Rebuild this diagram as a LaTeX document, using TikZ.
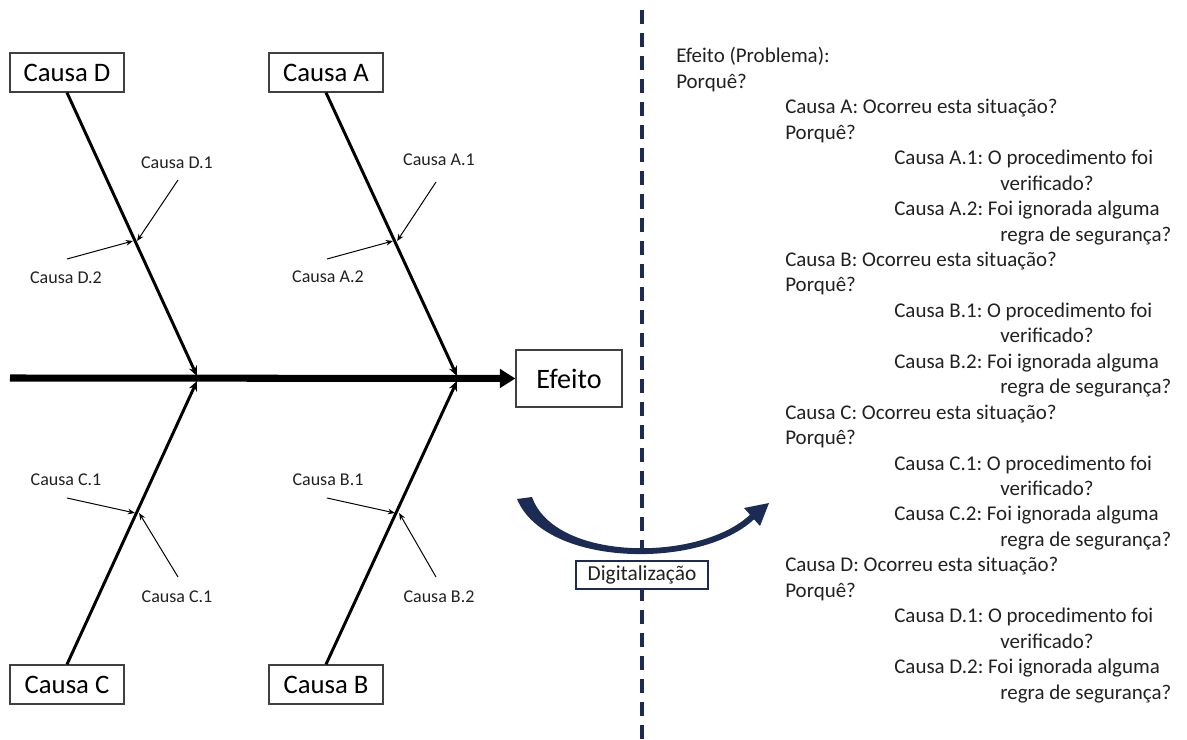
\documentclass[tikz,border=0pt]{standalone}
\usepackage{fontspec}
\setmainfont{Carlito}
\usetikzlibrary{arrows.meta}

\definecolor{navy}{rgb}{0.11,0.17,0.33}
\definecolor{darkgray}{rgb}{0.25,0.25,0.25}
\definecolor{ink}{rgb}{0.13,0.13,0.13}

\tikzset{
	causebox/.style={draw=darkgray,line width=0.9pt,minimum width=2.85cm,minimum height=0.975cm,font=\fontsize{19}{22}\selectfont},
	sublabel/.style={inner sep=0pt,font=\fontsize{12.8}{15}\selectfont,text=ink},
	line/.style={anchor=base west,inner sep=0pt,font=\fontsize{14.9}{18}\selectfont,text=ink},
	bone/.style={line width=2.1pt,-{Stealth[length=7pt,width=6pt]}},
	twig/.style={line width=0.7pt,-{Stealth[length=5pt,width=4pt]}}
}

\begin{document}
\frenchspacing
\begin{tikzpicture}[x=0.025cm,y=-0.025cm]

	\useasboundingbox (0,0) rectangle (1187,740);

	% boxes
	\node[causebox] at (67,72.5) (1) {Causa D};
	\node[causebox] at (326,72.5) (2) {Causa A};
	\node[causebox] at (67,684.5) (3) {Causa C};
	\node[causebox] at (326,684.5) (4) {Causa B};
	\node[causebox,minimum width=2.65cm,minimum height=1.425cm,font=\fontsize{20}{24}\selectfont] at (569,378.5) (5) {Efeito};

	\coordinate (s) at (10,378);
	\coordinate (j1) at (197,376);
	\coordinate (j2) at (457,376);
	\coordinate (j3) at (197,381);
	\coordinate (j4) at (457,381);

	% spine and bones
	\draw[line width=5pt,-{Triangle[length=11pt,width=13pt]}] (s) -- (5.west);

	\draw[bone] (1.south) -- (j1);
	\draw[bone] (2.south) -- (j2);
	\draw[bone] (3.north) -- (j3);
	\draw[bone] (4.north) -- (j4);

	% sub causes
	\node[sublabel] at (177,163) (7) {Causa D.1};
	\node[sublabel] at (66,278) (8) {Causa D.2};
	\node[sublabel] at (439,160) (9) {Causa A.1};
	\node[sublabel] at (328,277) (10) {Causa A.2};
	\node[sublabel] at (66,480) (11) {Causa C.1};
	\node[sublabel] at (177,597) (12) {Causa C.1};
	\node[sublabel] at (328,480) (13) {Causa B.1};
	\node[sublabel] at (439,597) (14) {Causa B.2};

	\coordinate (b1) at (135,241);
	\coordinate (b2) at (395,241);
	\coordinate (b3) at (137,513);
	\coordinate (b4) at (397,513);

	\coordinate (t7) at (178,180);
	\coordinate (t8) at (67,259);
	\coordinate (t9) at (436,182);
	\coordinate (t10) at (327,259);
	\coordinate (t11) at (67,498);
	\coordinate (t12) at (178,577);
	\coordinate (t13) at (327,498);
	\coordinate (t14) at (436,577);

	\draw[twig] (t7) to ([xshift=1.5pt]b1);
	\draw[twig] (t8) to ([xshift=-1.5pt]b1);
	\draw[twig] (t9) to ([xshift=1.5pt]b2);
	\draw[twig] (t10) to ([xshift=-1.5pt]b2);
	\draw[twig] (t11) to ([xshift=-1.5pt]b3);
	\draw[twig] (t12) to ([xshift=1.5pt]b3);
	\draw[twig] (t13) to ([xshift=-1.5pt]b4);
	\draw[twig] (t14) to ([xshift=1.5pt]b4);

	% divider and curved arrow
	\coordinate (top) at (642,10);
	\coordinate (bot) at (642,740);
	\draw[navy,line width=2.5pt,dash pattern=on 10pt off 6.4pt] (top) -- (bot);

	\fill[navy] (517,499) .. controls (545,567) and (700,570) .. (754,519.3) -- (760,526) -- (769,503) -- (744,508) -- (750,514.7) .. controls (700,562) and (555,562) .. (532,497) -- cycle;

	\node[draw=navy,fill=white,line width=1pt,minimum width=3.3cm,minimum height=0.65cm,font=\fontsize{15.2}{18}\selectfont,text=ink] at (642,575) (6) {Digitalização};

	% text on the right
	\node[line] at (676,63) (15) {Efeito (Problema):};
	\node[line] at (676,88.4) (16) {Porquê?};

	\node[line] at (785,113.9) (17) {Causa A: Ocorreu esta situação?};
	\node[line] at (785,139.3) (18) {Porquê?};
	\node[line] at (894,164.8) (19) {Causa A.1: O procedimento foi};
	\node[line] at (1000,190.2) (20) {verificado?};
	\node[line] at (894,215.6) (21) {Causa A.2: Foi ignorada alguma};
	\node[line] at (1000,241.1) (22) {regra de segurança?};

	\node[line] at (785,266.5) (23) {Causa B: Ocorreu esta situação?};
	\node[line] at (785,292) (24) {Porquê?};
	\node[line] at (894,317.4) (25) {Causa B.1: O procedimento foi};
	\node[line] at (1000,342.8) (26) {verificado?};
	\node[line] at (894,368.3) (27) {Causa B.2: Foi ignorada alguma};
	\node[line] at (1000,393.7) (28) {regra de segurança?};

	\node[line] at (785,419.2) (29) {Causa C: Ocorreu esta situação?};
	\node[line] at (785,444.6) (30) {Porquê?};
	\node[line] at (894,470) (31) {Causa C.1: O procedimento foi};
	\node[line] at (1000,495.5) (32) {verificado?};
	\node[line] at (894,520.9) (33) {Causa C.2: Foi ignorada alguma};
	\node[line] at (1000,546.4) (34) {regra de segurança?};

	\node[line] at (785,571.8) (35) {Causa D: Ocorreu esta situação?};
	\node[line] at (785,597.2) (36) {Porquê?};
	\node[line] at (894,622.7) (37) {Causa D.1: O procedimento foi};
	\node[line] at (1000,648.1) (38) {verificado?};
	\node[line] at (894,673.6) (39) {Causa D.2: Foi ignorada alguma};
	\node[line] at (1000,699) (40) {regra de segurança?};
\end{tikzpicture}
\end{document}
